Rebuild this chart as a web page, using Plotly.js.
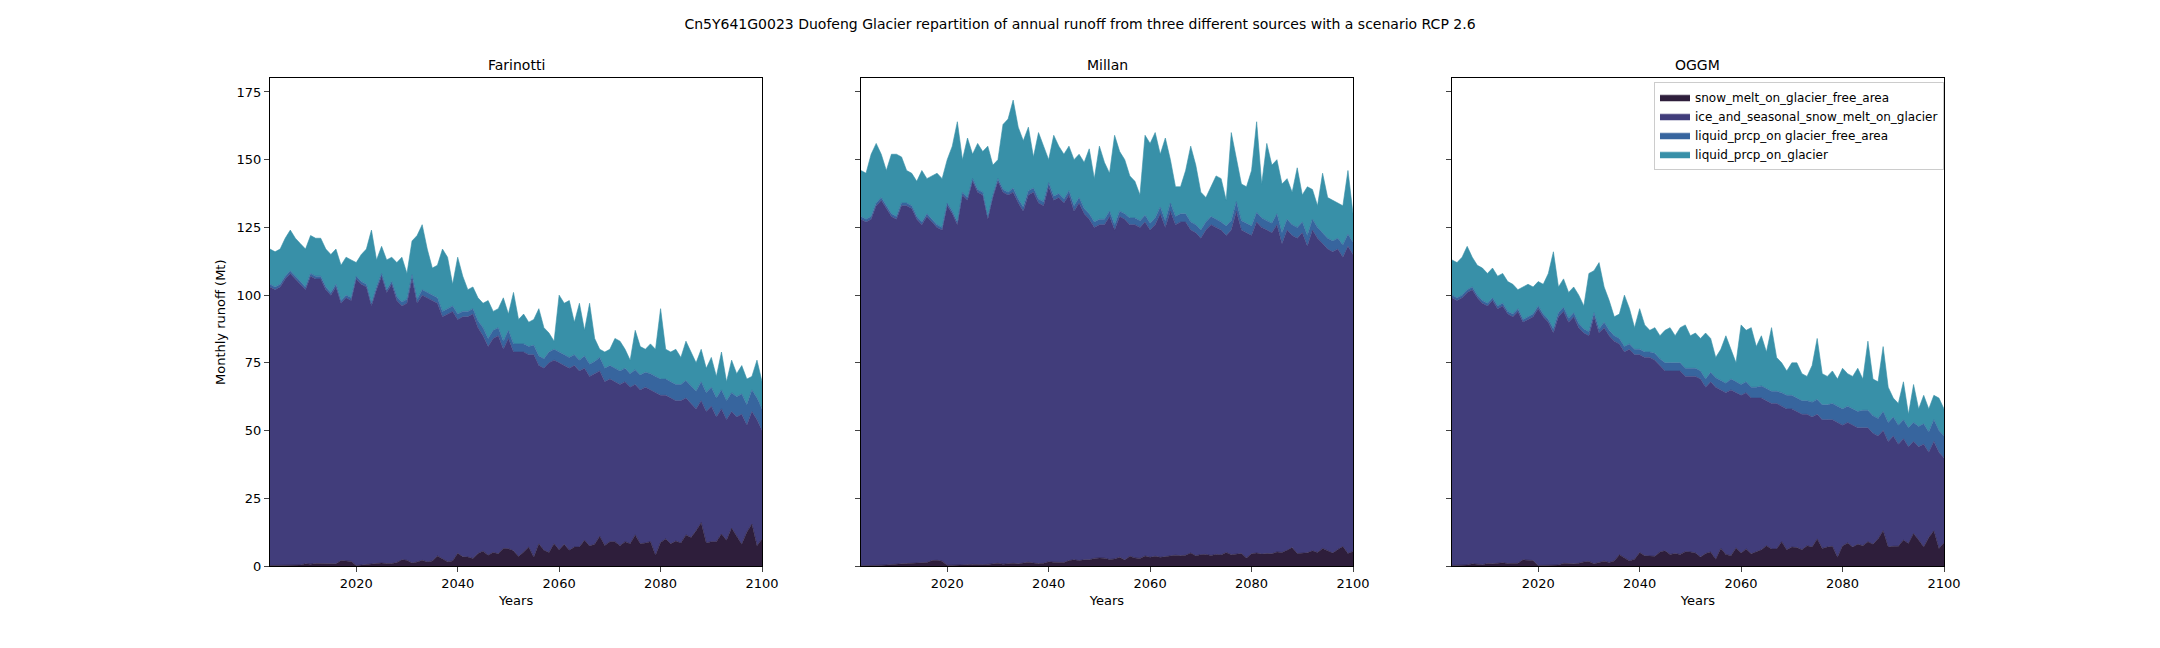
<!DOCTYPE html>
<html>
<head>
<meta charset="utf-8">
<script src="https://cdn.plot.ly/plotly-3.0.1.min.js"></script>
<style>html,body{margin:0;padding:0;background:#fff}#chart{width:2160px;height:648px}</style>
</head>
<body>
<div id="chart"></div>
<script>
const years = [];
for (let y = 2003; y <= 2100; y++) years.push(y);

const seriesNames = ['snow_melt_on_glacier_free_area', 'ice_and_seasonal_snow_melt_on_glacier', 'liquid_prcp_on glacier_free_area', 'liquid_prcp_on_glacier'];
const seriesColors = ['#2e1e3b', '#413d7b', '#37659e', '#3890a8'];
const panelTitles = ['Farinotti', 'Millan', 'OGGM'];

// top of stack, top of purple (snow + ice), snow, liquid on free area
const farTotal = [117,116,117,121,124,121,119,117,122,121, 121,117,115,117,111,114,113,112,115,117,
  124,113,118,113,114,112,114,108,120,122, 126,117,110,111,117,114,104,114,107,102,
  103,99,97,98,94,95,99,93,101,91, 93,90,91,95,88,86,83,100,97,98,
  90,97,87,97,84,80,79,80,84,83, 80,76,87,81,80,82,80,95,80,79,
  80,77,83,79,75,80,73,77,70,79, 68,76,71,74,69,70,76,68];
const farIceTop = [103,102,103,106,108,106,104,102,107,106, 106,102,100,103,97,99,98,106,104,103,
  96,102,107,101,104,98,96,97,106,97, 100,99,98,97,92,93,94,91,92,92,
  93,88,85,81,84,85,80,84,79,79, 79,78,78,74,73,75,76,75,74,73,
  74,72,73,70,71,72,68,69,68,67, 68,66,67,65,66,65,64,63,63,62,
  61,61,62,60,58,61,57,59,55,58, 54,57,55,56,52,57,54,50];
const farSnow = [0.2,0.2,0.2,0.3,0.3,0.3,0.4,0.8,0.7,0.9, 0.9,0.7,0.8,0.8,2,1.9,1.7,0.2,0.4,0.7,
  0.8,1,1.1,0.9,0.9,1.3,2.3,2.1,1.1,1.5, 2.1,1.5,1.9,3.7,2.6,1.6,1.9,4.7,3.4,3.3,
  2.8,4.6,5.5,4,5,4.5,6.5,6.4,5.6,3.5, 5.2,7,3.2,8.2,5.8,5,8.2,6,8,5.8,
  7,7,9.5,7.4,8,11,7.6,9,9,7.5, 9,8.2,11.5,8.2,8.5,9,4,8.7,10,8.2,
  9.2,8.5,11.5,10.5,13,16,8.5,9,9,11.8, 9.5,14,11,8,12.5,15.5,7.5,10];
const farLFree = [1,1,1,1,1,1,1,1,1,1, 1,1,1,1,1,1,1,1,1,1,
  1,1,1,1,1,1.5,1.5,1.5,1.5,1.5, 2,2,2,2,2,2,2,2,2,2,
  2,2.5,3,3,3,3,3,3,3,3, 3,3,3.5,3.5,3.5,4,4,4,4,4,
  4,4,4.5,4.5,4.5,5,5,5,5,5, 5,5,5.5,5.5,5.5,6,6,6,6,6,
  6,6,6.5,6.5,6.5,7,7,7,7,7, 7,7,7.5,7.5,7.5,8,8,8];

const milTotal = [146,145,152,156,152,146,152,152,151,146, 145,142,146,143,144,145,143,150,155,164,
  150,158,152,156,153,155,148,150,163,165, 172,162,157,162,151,160,155,150,159,155,
  152,155,150,152,149,154,143,155,149,145, 159,153,150,144,142,137,159,156,160,152,
  158,150,140,140,146,155,148,138,136,140, 144,143,135,160,150,141,140,146,164,141,
  156,148,150,141,143,138,147,137,140,139, 133,145,136,135,134,133,146,130];
const milIceTop = [128,127,128,133,135,132,129,128,133,133, 132,128,126,129,127,125,124,133,130,126,
  137,135,142,138,137,128,136,142,138,137, 138,134,131,137,138,134,133,140,135,136,
  134,137,131,134,130,128,125,126,126,129, 124,129,128,126,126,125,127,124,126,130,
  125,131,126,127,127,124,123,121,124,126, 125,124,122,124,131,124,123,122,127,125,
  124,123,126,119,124,122,121,123,118,124, 121,119,117,116,117,114,118,115];
const milSnow = [0.1,0.1,0.2,0.3,0.3,0.4,0.6,0.8,0.8,0.9, 1,1,1.2,1.3,2,2.1,1.8,0.3,0.3,0.3,
  0.4,0.5,0.6,0.5,0.5,0.6,0.9,1,0.7,0.8, 1,0.8,1,1.4,1.1,0.9,1,1.6,1.4,1.4,
  1.3,2,2.3,2,2.3,2.3,2.8,3,2.9,2.4, 2.6,3.2,2.2,3.6,3,2.8,3.7,3.2,3.6,3.2,
  3.5,3.6,4,3.8,4,4.8,3.8,4.2,4.3,3.9, 4.3,4.1,5,4.2,4.3,4.6,3,4.5,4.8,4.4,
  4.6,4.5,5.2,5,5.8,6.8,4.6,4.8,4.9,5.6, 5,6.5,5.6,4.8,6.1,7.2,4.6,5.4];
const milLFree = [1,1,1,1,1,1,1,1,1,1, 1,1,1,1,1,1,1,1,1,1,
  1,1,1,1,1,1,1,1,1,1, 1.5,1.5,1.5,1.5,1.5,1.5,1.5,1.5,1.5,1.5,
  1.5,1.5,2,2,2,2,2,2,2,2, 2,2,2,2.5,2.5,2.5,2.5,2.5,2.5,2.5,
  2.5,3,3,3,3,3,3,3,3,3, 3,3,3.5,3.5,3.5,3.5,3.5,3.5,3.5,3.5,
  3.5,3.5,4,4,4,4,4,4,4,4, 4,4,4,4,4,4.5,4.5,4.5];

const oggTotal = [113,112,114,118,114,111,110,108,110,107, 108,105,104,102,103,104,103,105,104,108,
  116,103,106,101,103,100,96,108,109,112, 103,98,92,93,100,95,88,95,89,87,
  88,85,87,88,85,88,89,85,86,84, 86,84,77,80,85,80,75,89,87,88,
  81,85,79,88,77,75,72,75,75,71, 70,74,84,71,70,72,69,73,71,70,
  73,69,83,69,68,81,66,62,60,68, 56,67,58,63,58,63,62,58];
const oggIceTop = [99,98,99,101,102,99,97,96,98,95, 96,93,92,94,90,91,92,95,92,90,
  86,92,94,90,92,88,86,85,92,86, 88,85,83,82,79,80,78,78,77,77,
  76,74,72,72,72,72,70,70,70,69, 66,68,66,65,64,65,64,63,64,62,
  62,62,61,60,60,59,58,58,57,56, 56,55,56,54,54,54,53,52,53,52,
  51,51,51,49,48,50,46,48,45,47, 44,46,44,45,42,46,42,40];
const oggSnow = [0.2,0.2,0.3,0.4,0.8,0.6,0.5,0.9,0.8,1, 1.2,0.9,1,1,2.3,2.1,2,0.2,0.3,0.3,
  0.4,0.4,1,0.8,0.8,1,1.5,1.7,0.8,1.3, 1.8,1.3,1.9,4.2,3,1.9,2.5,5,3.8,3.6,
  3.6,5.2,5.6,4.3,4.6,4.3,5.3,5.2,4.8,3.3, 4.6,5.2,2.5,6.5,4.3,3.8,6.7,4.8,6.3,4.5,
  5.3,6,7.5,6.3,6.3,9,6,7,6.8,6,7.5,7,10,6.5,7,7.3,3.2,7.4,8.5,7,
  8,7.5,9,8,10,13,7,7.3,7.3,9.6, 8.3,12,9.6,7,10.5,13,6.5,8.5];
const oggLFree = [1,1,1,1,1,1,1,1,1,1, 1,1,1,1,1,1,1,1,1,1,
  1.5,1.5,1.5,1.5,1.5,1.5,1.5,1.5,1.5,1.5, 2,2,2,2,2,2,2,2,2,2,
  2.5,2.5,3,3,3,3,3,3,3,3, 3,3.5,3.5,3.5,3.5,4,4,4,4,4,
  4,4.5,4.5,4.5,4.5,5,5,5,5,5, 5,5.5,5.5,5.5,5.5,6,6,6,6,6,
  6,6.5,6.5,6.5,6.5,7,7,7,7,7, 7,7,7.5,7.5,7.5,8,8,8];

const panels = [
  [farTotal, farIceTop, farSnow, farLFree],
  [milTotal, milIceTop, milSnow, milLFree],
  [oggTotal, oggIceTop, oggSnow, oggLFree],
];

const traces = [];
panels.forEach(([total, iceTop, snow, lfree], p) => {
  const ice = iceTop.map((v, i) => v - snow[i]);
  const lglac = total.map((v, i) => v - iceTop[i] - lfree[i]);
  const layers = [snow, ice, lfree, lglac];
  const ax = p === 0 ? '' : String(p + 1);
  layers.forEach((vals, k) => {
    traces.push({
      x: years, y: vals, name: seriesNames[k], type: 'scatter', mode: 'lines',
      stackgroup: 'g' + p, fillcolor: seriesColors[k],
      line: { color: seriesColors[k], width: 0.6 },
      xaxis: 'x' + ax, yaxis: 'y' + ax, showlegend: p === 2,
    });
  });
});

const doms = [[0.125, 0.3528], [0.3986, 0.6264], [0.6722, 0.9]];
const font = { family: 'DejaVu Sans, sans-serif', size: 13, color: '#000' };
const layout = {
  width: 2160, height: 648, paper_bgcolor: '#fff', plot_bgcolor: '#fff',
  margin: { l: 0, r: 0, t: 0, b: 0 }, font,
  title: { text: 'Cn5Y641G0023 Duofeng Glacier repartition of annual runoff from three different sources with a scenario RCP 2.6', x: 0.5, y: 0.97, yanchor: 'top', font: { ...font, size: 14 } },
  legend: { x: 0.9, xanchor: 'right', y: 0.874, yanchor: 'top', bgcolor: 'rgba(255,255,255,0.8)', bordercolor: '#ccc', borderwidth: 1, font: { ...font, size: 12 }, traceorder: 'normal', tracegroupgap: 0 },
  annotations: [],
};
doms.forEach((d, p) => {
  const ax = p === 0 ? '' : String(p + 1);
  layout['xaxis' + ax] = {
    domain: d, range: [2003, 2100], anchor: 'y' + ax, tickvals: [2020, 2040, 2060, 2080, 2100],
    ticks: 'outside', ticklen: 5, showline: true, mirror: true, linecolor: '#000', showgrid: false, zeroline: false,
    title: { text: 'Years', font, standoff: 6 }, tickfont: font,
  };
  layout['yaxis' + ax] = {
    domain: [0.1265, 0.879], range: [0, 180], anchor: 'x' + ax, tickvals: [0, 25, 50, 75, 100, 125, 150, 175],
    ticks: 'outside', ticklen: 5, showline: true, mirror: true, linecolor: '#000', showgrid: false, zeroline: false,
    showticklabels: p === 0, tickfont: font,
    title: { text: p === 0 ? 'Monthly runoff (Mt)' : '', font, standoff: 8 },
  };
  layout.annotations.push({ text: panelTitles[p], x: (d[0] + d[1]) / 2, y: 0.885, xref: 'paper', yref: 'paper', xanchor: 'center', yanchor: 'bottom', showarrow: false, font: { ...font, size: 14 } });
});

Plotly.newPlot('chart', traces, layout, { displayModeBar: false });
</script>
</body>
</html>
